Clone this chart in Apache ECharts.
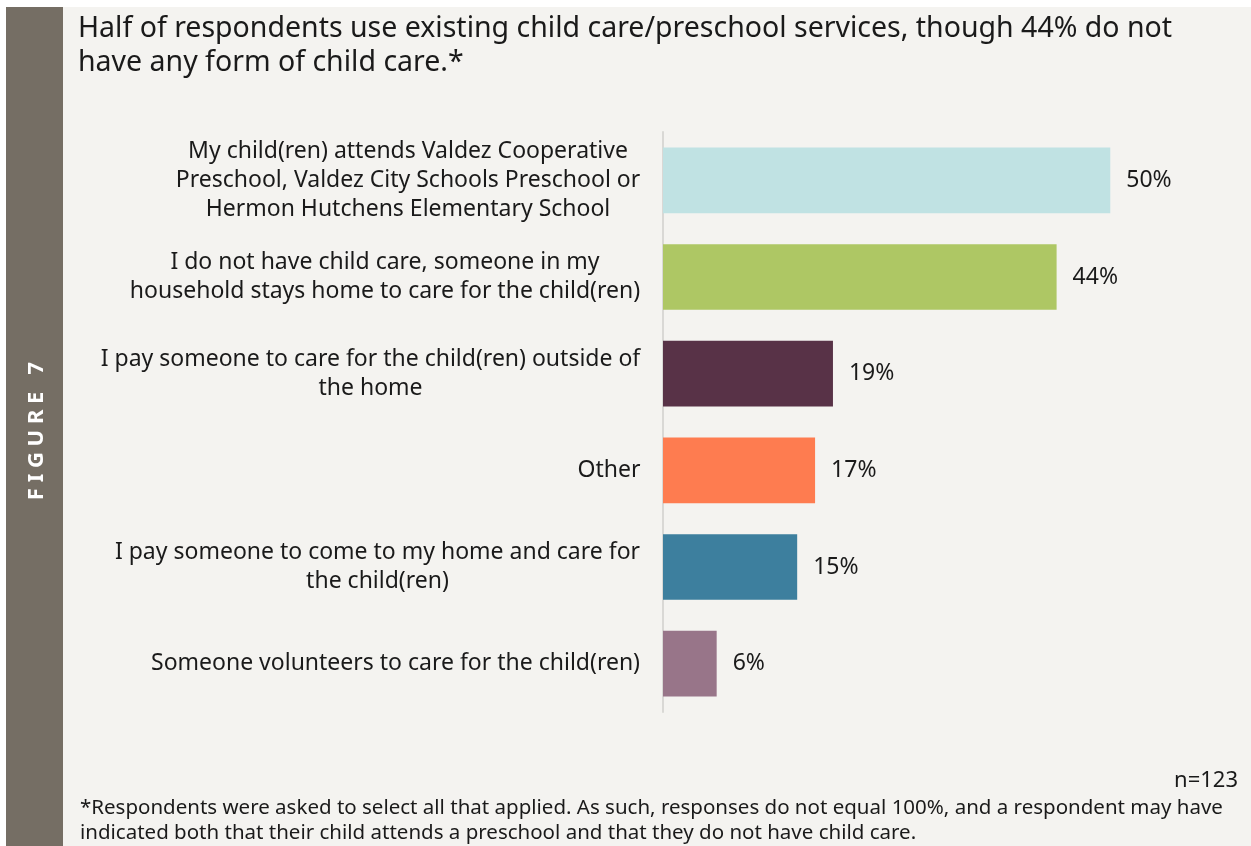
<!DOCTYPE html>
<html>
<head>
<meta charset="utf-8">
<script src="https://cdn.jsdelivr.net/npm/echarts@6/dist/echarts.min.js"></script>
<style>
  html, body { margin: 0; padding: 0; background: #fff; }
  #chart { width: 1251px; height: 846px; }
</style>
</head>
<body>
<div id="chart"></div>
<script>
// categories, top to bottom
var categories = [
    'My child(ren) attends Valdez Cooperative\nPreschool, Valdez City Schools Preschool or\nHermon Hutchens Elementary School',
    'I do not have child care, someone in my\nhousehold stays home to care for the child(ren)',
    'I pay someone to care for the child(ren) outside of\nthe home',
    'Other',
    'I pay someone to come to my home and care for\nthe child(ren)',
    'Someone volunteers to care for the child(ren)'
];
var values = [50, 44, 19, 17, 15, 6];
var barColors = ['#C0E2E3', '#AEC764', '#583247', '#FE7C50', '#3D7F9E', '#987589'];

var FONT = '"Noto Sans", sans-serif';
var LABEL_SIZE = 23;

// 每个标签的最大行宽，用于多行居中
var ctx = document.createElement('canvas').getContext('2d');
ctx.font = LABEL_SIZE + 'px ' + FONT;
var rich = {};
categories.forEach(function (c, i) {
    var w = 0;
    c.split('\n').forEach(function (l) { w = Math.max(w, ctx.measureText(l).width); });
    rich['l' + i] = {
        width: Math.ceil(w) + 1,
        align: 'center',
        fontSize: LABEL_SIZE,
        fontFamily: FONT,
        lineHeight: 29,
        color: '#1a1a1a'
    };
});

var myChart = echarts.init(document.getElementById('chart'));
myChart.setOption({
    backgroundColor: '#fff',
    animation: false,
    graphic: [
        { // page background
            type: 'rect', z: -10,
            shape: { x: 6, y: 7, width: 1245, height: 839 },
            style: { fill: '#F4F3F0' }
        },
        { // side strip
            type: 'rect', z: -9,
            shape: { x: 6, y: 7, width: 57, height: 839 },
            style: { fill: '#756E64' }
        },
        {
            type: 'text',
            x: 37, y: 431,
            rotation: Math.PI / 2,
            style: {
                text: 'F I G U R E   7',
                fill: '#fff',
                font: 'bold 22px ' + FONT,
                align: 'center',
                verticalAlign: 'middle'
            }
        },
        {
            type: 'text',
            x: 78, y: 12,
            style: {
                text: 'Half of respondents use existing child care/preschool services, though 44% do not\nhave any form of child care.*',
                fill: '#1a1a1a',
                font: '28.5px ' + FONT,
                lineHeight: 34
            }
        },
        {
            type: 'text',
            x: 1238, y: 781,
            style: {
                text: 'n=123',
                fill: '#1a1a1a',
                font: '22px ' + FONT,
                align: 'right',
                verticalAlign: 'middle'
            }
        },
        {
            type: 'text',
            x: 80, y: 796,
            style: {
                text: '*Respondents were asked to select all that applied. As such, responses do not equal 100%, and a respondent may have\nindicated both that their child attends a preschool and that they do not have child care.',
                fill: '#1a1a1a',
                font: '20.5px ' + FONT,
                lineHeight: 25
            }
        }
    ],
    grid: {
        left: 663,
        top: 132,
        width: 492,
        height: 580,
        containLabel: false
    },
    xAxis: {
        type: 'value',
        min: 0,
        max: 55,
        show: false
    },
    yAxis: {
        type: 'category',
        inverse: true,
        data: categories,
        axisTick: { show: false },
        axisLine: { //轴线
            show: true,
            lineStyle: { color: '#D9D8D5', width: 2 }
        },
        axisLabel: {
            align: 'right',
            margin: 22,
            formatter: function (v, i) {
                return v.split('\n').map(function (l) {
                    return '{l' + i + '|' + l + '}';
                }).join('\n');
            },
            rich: rich
        }
    },
    series: [{
        type: 'bar',
        barCategoryGap: '32%',
        data: values.map(function (v, i) {
            return { value: v, itemStyle: { color: barColors[i] } };
        }),
        label: {
            show: true,
            position: 'right',
            distance: 16,
            formatter: '{c}%',
            color: '#1a1a1a',
            fontFamily: FONT,
            fontSize: 23
        }
    }]
});
</script>
</body>
</html>
